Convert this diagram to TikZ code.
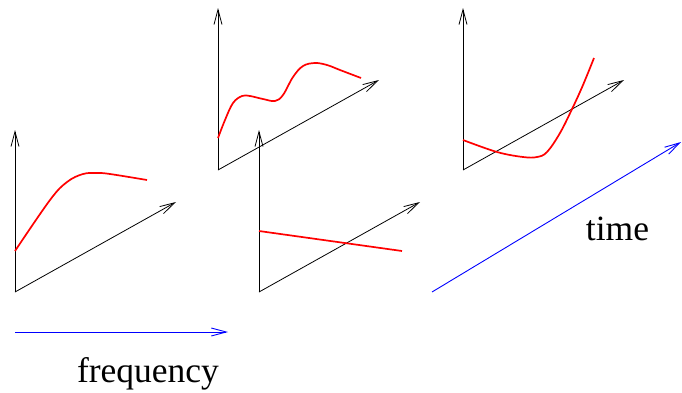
\documentclass[tikz,border=0pt]{standalone}
\usepackage{fontspec}
\setmainfont{Liberation Serif}
\usepackage{xcolor}
\usetikzlibrary{arrows.meta}
\definecolor{ccurve}{HTML}{FF0000}
\definecolor{cdir}{HTML}{0000FF}

\begin{document}
\begin{tikzpicture}[x=1pt,y=-1pt,>={Straight Barb[length=15pt,width=8pt]},
  axis/.style={->,line width=0.8pt},
  curve/.style={ccurve,line width=1.7pt},
  dirarrow/.style={->,cdir,line width=0.9pt}]
  \useasboundingbox (0,0) rectangle (682,392);
  % axes of the four small plots
  \foreach \ox/\oy/\n in {15/292/a,218/170/b,259/292/c,463/170/d} {
    \coordinate (o\n) at (\ox,\oy);
    \draw[axis] (o\n) -- ++(0,-162);
    \draw[axis] (o\n) -- ++(161,-90);
  }
  % the curves
  \draw[curve] plot[smooth,tension=0.6] coordinates
    {(15,251) (50,200) (67,182) (83,174) (97,173) (110,174) (147,180)};
  \draw[curve] plot[smooth,tension=0.6] coordinates
    {(218,138) (225,120) (233,103) (242,96) (250,96) (263,99) (275,101)
     (283,95) (293,77) (303,66) (315,63) (327,65) (340,70) (361,78)};
  \draw[curve] (259,231) -- (402,251);
  \draw[curve] plot[smooth,tension=0.6] coordinates
    {(463,140) (497,152) (523,157) (537,157) (547,152) (560,133)
     (573,107) (583,85) (594,58)};
  % frequency and time directions
  \coordinate (fstart) at (15,332);
  \coordinate (fend) at (228,332);
  \coordinate (tstart) at (432,292);
  \coordinate (tend) at (681,142);
  \draw[dirarrow] (fstart) -- (fend);
  \draw[dirarrow] (tstart) -- (tend);
  \node[anchor=base,inner sep=0pt,font=\fontsize{35.5}{40}\selectfont] (freq) at (148,382) {frequency};
  \node[anchor=base,inner sep=0pt,font=\fontsize{35.5}{40}\selectfont] (time) at (617.5,240) {time};
\end{tikzpicture}
\end{document}
